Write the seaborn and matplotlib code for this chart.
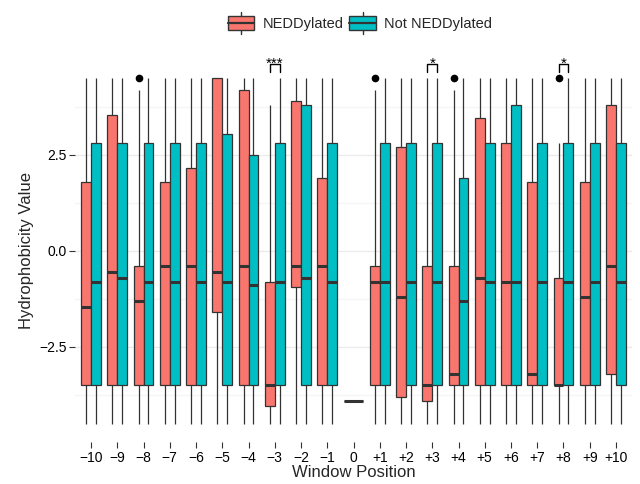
import numpy as np
import pandas as pd
import matplotlib
matplotlib.use("Agg")
import matplotlib.pyplot as plt
from matplotlib.legend_handler import HandlerBase
from matplotlib.patches import Rectangle, Patch
from matplotlib.lines import Line2D
import seaborn as sns

# --------------------------------------------------------------
# Data (box summaries, Kyte-Doolittle scale)
# --------------------------------------------------------------
side_positions = ["-10", "-9", "-8", "-7", "-6", "-5", "-4", "-3", "-2", "-1",
                  "+1", "+2", "+3", "+4", "+5", "+6", "+7", "+8", "+9", "+10"]
order = side_positions[:10] + ["0"] + side_positions[10:]
groups = ["NEDDylated", "Not NEDDylated"]
colors = ["#F8766D", "#00BFC4"]

# NEDDylated
ned_low  = [-4.5] * 20
ned_q1   = [-3.5, -3.5, -3.5, -3.5, -3.5, -1.6, -3.5, -4.05, -0.95, -3.5,
            -3.5, -3.8, -3.9, -3.5, -3.5, -3.5, -3.5, -3.5, -3.5, -3.2]
ned_med  = [-1.45, -0.55, -1.3, -0.4, -0.4, -0.55, -0.4, -3.5, -0.4, -0.4,
            -0.8, -1.2, -3.5, -3.2, -0.7, -0.8, -3.2, -3.5, -1.2, -0.4]
ned_q3   = [1.8, 3.55, -0.4, 1.8, 2.15, 4.5, 4.2, -0.8, 3.9, 1.9,
            -0.4, 2.7, -0.4, -0.4, 3.45, 2.8, 1.8, -0.7, 1.8, 3.8]
ned_high = [4.5, 4.5, 4.2, 4.5, 4.5, 4.5, 4.5, 3.8, 4.5, 4.5,
            4.2, 4.5, 4.5, 4.2, 4.5, 4.5, 4.5, 2.8, 4.5, 4.5]
ned_out  = [None, None, 4.5, None, None, None, None, None, None, None,
            4.5, None, None, 4.5, None, None, None, 4.5, None, None]

# Not NEDDylated
not_low  = [-4.5] * 20
not_q1   = [-3.5] * 20
not_med  = [-0.8, -0.7, -0.8, -0.8, -0.8, -0.8, -0.9, -0.8, -0.7, -0.8,
            -0.8, -0.8, -0.8, -1.3, -0.8, -0.8, -0.8, -0.8, -0.8, -0.8]
not_q3   = [2.8, 2.8, 2.8, 2.8, 2.8, 3.05, 2.5, 2.8, 3.8, 2.8,
            2.8, 2.8, 2.8, 1.9, 2.8, 3.8, 2.8, 2.8, 2.8, 2.8]
not_high = [4.5] * 20

# centre residue (lysine) only
center_value = -3.9

sig_positions = ["-3", "+3", "+8"]
sig_labels = ["***", "*", "*"]


def box_sample(lo, q1, med, q3, hi, out=None):
    # 9 values whose quartiles / whiskers reproduce the summary
    return [lo, q1, q1, q1, med, q3, q3, hi, hi if out is None else out]


rows = []
for i, pos in enumerate(side_positions):
    for v in box_sample(ned_low[i], ned_q1[i], ned_med[i], ned_q3[i], ned_high[i], ned_out[i]):
        rows.append((pos, groups[0], v))
    for v in box_sample(not_low[i], not_q1[i], not_med[i], not_q3[i], not_high[i]):
        rows.append((pos, groups[1], v))
df = pd.DataFrame(rows, columns=["position", "group", "value"])
df_center = pd.DataFrame({"position": ["0"] * 5, "value": [center_value] * 5})

# --------------------------------------------------------------
# Plot
# --------------------------------------------------------------
sns.set_style("white")
plt.rcParams["font.family"] = ["Liberation Sans", "DejaVu Sans"]

fig = plt.figure(figsize=(6.4, 4.84), dpi=100)
ax = fig.add_axes([0.1176, 0.0864, 0.8695, 0.7903])

line_kw = dict(linecolor="#333333", linewidth=0.9, saturation=1, width=0.75,
               medianprops={"linewidth": 2.2}, capprops={"visible": False},
               flierprops={"marker": "o", "markerfacecolor": "black",
                           "markeredgecolor": "black"}, fliersize=4.5)
sns.boxplot(data=df, x="position", y="value", hue="group", order=order,
            hue_order=groups, palette=colors, gap=0, legend=False, ax=ax, **line_kw)
sns.boxplot(data=df_center, x="position", y="value", order=order,
            color=colors[0], ax=ax, **line_kw)

# significance brackets
for pos, lab in zip(sig_positions, sig_labels):
    i = order.index(pos)
    xl, xr = i - 0.1875, i + 0.1875
    ax.plot([xl, xl, xr, xr], [4.66, 4.87, 4.87, 4.66], color="black", lw=1)
    ax.text(i, 4.77, lab, ha="center", va="baseline", fontsize=11, color="black")

ax.set_xlim(-0.6, len(order) - 0.4)
ax.set_ylim(-4.98, 4.98)
ax.set_xticks(range(len(order)))
ax.set_xticklabels([p.replace("-", "\u2212") for p in order])
ax.set_yticks([-2.5, 0, 2.5])
ax.set_yticklabels(["\u22122.5", "0.0", "2.5"])
ax.set_yticks([-3.75, -1.25, 1.25, 3.75], minor=True)
ax.grid(False)
ax.grid(which="major", axis="y", color="#EBEBEB", lw=1)
ax.grid(which="minor", axis="y", color="#F5F5F5", lw=1)
ax.set_axisbelow(True)
for s in ax.spines.values():
    s.set_visible(False)
ax.tick_params(axis="both", which="major", left=True, bottom=True, length=4,
               width=0.8, color="#333333", labelsize=10, labelcolor="black", pad=2)
ax.tick_params(axis="y", which="minor", length=0)
ax.set_xlabel("Window Position", fontsize=12, labelpad=0)
ax.set_ylabel("Hydrophobicity Value", fontsize=12, labelpad=4)


class BoxKey(HandlerBase):
    def create_artists(self, legend, orig, xd, yd, w, h, fontsize, trans):
        x0, y0 = -xd, -yd
        fc = orig.get_facecolor()
        rect = Rectangle((x0, y0 + 0.18 * h), w, 0.64 * h, facecolor=fc,
                         edgecolor="#333333", lw=1, transform=trans)
        med = Line2D([x0, x0 + w], [y0 + h / 2] * 2, color="#333333", lw=1.6, transform=trans)
        w1 = Line2D([x0 + w / 2] * 2, [y0, y0 + 0.18 * h], color="#333333", lw=1, transform=trans)
        w2 = Line2D([x0 + w / 2] * 2, [y0 + 0.82 * h, y0 + h], color="#333333", lw=1, transform=trans)
        return [w1, w2, rect, med]


handles = [Patch(facecolor=c) for c in colors]
fig.legend(handles, groups, loc="center", bbox_to_anchor=(0.5625, 1 - 23 / 484),
           ncol=2, frameon=False, handler_map={Patch: BoxKey()}, fontsize=10.5,
           handlelength=1.8, handleheight=1.9, handletextpad=0.6, columnspacing=0.4)

fig.savefig("out.png", dpi=100)
